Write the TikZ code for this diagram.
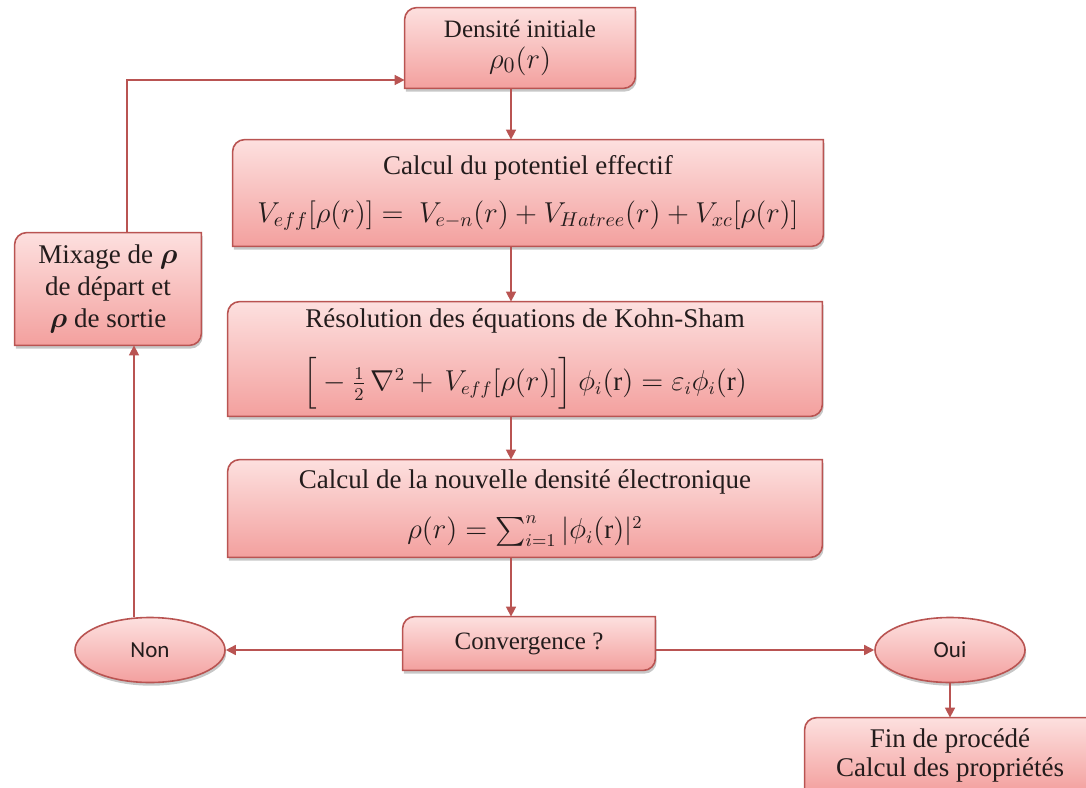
\documentclass[tikz,border=0pt]{standalone}
\usepackage{amsmath}
\usepackage{fontspec}
\setmainfont{Liberation Serif}
\newfontfamily\ovalfont{Carlito}
\usetikzlibrary{arrows.meta,shadows,backgrounds,shapes.geometric}

\definecolor{boxLine}{RGB}{185,84,82}
\definecolor{boxTop}{RGB}{253,224,223}
\definecolor{boxBottom}{RGB}{243,160,158}
\definecolor{boxText}{RGB}{35,28,28}

%% outline with rounded top left and bottom right corners
\newcommand{\cornerR}{6pt}
\newcommand{\cornerBox}[2]{%
  \path[#1] ([yshift=-\cornerR]#2.north west)
    arc[start angle=180,end angle=90,radius=\cornerR]
    -- (#2.north east) -- ([yshift=\cornerR]#2.south east)
    arc[start angle=0,end angle=-90,radius=\cornerR]
    -- (#2.south west) -- cycle;}

\begin{document}
\begin{tikzpicture}
[x=0.5pt,y=-0.5pt,
  boxDecorate/.style={inner sep=0pt,align=center,text=boxText,
    font=\rmfamily\fontsize{13.5}{16}\selectfont},
  boxShape/.style={draw=boxLine,line width=0.8pt,top color=boxTop,
    bottom color=boxBottom},
  boxShadow/.style={fill=black,opacity=0.22,
    transform canvas={xshift=0.6pt,yshift=-1.6pt}},
  ovalDecorate/.style={ellipse,inner sep=0pt,minimum width=75pt,minimum height=32.5pt,
    draw=boxLine,line width=0.8pt,top color=boxTop,bottom color=boxBottom,
    text=boxText,font=\ovalfont\fontsize{11.5}{14}\selectfont,
    drop shadow={shadow xshift=0.6pt,shadow yshift=-1.6pt,opacity=0.22,fill=black}},
  arrowDecorate/.style={draw=boxLine,line width=0.8pt,-{Triangle[length=5pt,width=5pt]}}]
\useasboundingbox (0,0) rectangle (1086,787);
%% boxes
\node (dens) at (520,48) [boxDecorate,minimum width=115pt,minimum height=40pt,
  font=\rmfamily\fontsize{12.5}{15.5}\selectfont]
  {Densité initiale\\ {\fontsize{15}{15}\selectfont$\rho_0(r)$}};
\node (pot) at (528,193) [boxDecorate,minimum width=295pt,minimum height=53pt]
  {Calcul du potentiel effectif\\[8pt]
   {\fontsize{14.8}{16}\selectfont
   $V_{eff}[\rho(r)] =\ V_{e-n}(r) + V_{Hatree}(r) + V_{xc}[\rho(r)]$}};
\node (ks) at (525,359) [boxDecorate,minimum width=297pt,minimum height=57pt]
  {Résolution des équations de Kohn-Sham\\[11pt]
   $\Big[-\tfrac{1}{2}\,\nabla^2 +\, V_{eff}[\rho(r)]\Big]\ \phi_i(\mathrm{r}) = \varepsilon_i\phi_i(\mathrm{r})$};
\node (newd) at (525,508.5) [boxDecorate,minimum width=297pt,minimum height=48.5pt]
  {Calcul de la nouvelle densité électronique\\[9pt]
   $\rho(r) = \sum_{i=1}^{n}|\phi_i(\mathrm{r})|^2$};
\node (conv) at (529,643.5) [boxDecorate,minimum width=126pt,minimum height=26.5pt,
  font=\rmfamily\fontsize{12.5}{15}\selectfont] {Convergence ?};
\node (mix) at (108,289) [boxDecorate,minimum width=93pt,minimum height=56pt]
  {Mixage de $\boldsymbol{\rho}$\\ de départ et\\ $\boldsymbol{\rho}$ de sortie};
\node (fin) at (950,755) [boxDecorate,minimum width=145pt,minimum height=37pt,
  font=\rmfamily\fontsize{13.5}{14.5}\selectfont] {Fin de procédé\\ Calcul des propriétés};
%% ovals
\node (non) at (150,650) [ovalDecorate] {Non};
\node (oui) at (950,650) [ovalDecorate] {Oui};
\begin{scope}[on background layer]
\foreach \boxname in {dens,pot,ks,newd,conv,mix,fin}
{
  \cornerBox{boxShadow}{\boxname}
  \cornerBox{boxShape}{\boxname}
}
\end{scope}
%% connectors
\coordinate (col) at (511,0);
\coordinate (back) at (134,0);
\coordinate (loop) at (127,80);
\path
\foreach \startnode/\endnode in {dens/pot, pot/ks, ks/newd, newd/conv}
{
  (\startnode.south -| col) edge[arrowDecorate] (\endnode.north -| col)
};
\draw[arrowDecorate] (conv.west |- non) -- (non.east);
\draw[arrowDecorate] (conv.east |- oui) -- (oui.west);
\draw[arrowDecorate] (oui.south) -- (fin.north);
\draw[arrowDecorate] (non.north -| back) -- (mix.south -| back);
\draw[arrowDecorate] (mix.north -| loop) |- (dens.west |- loop);
\end{tikzpicture}
\end{document}
